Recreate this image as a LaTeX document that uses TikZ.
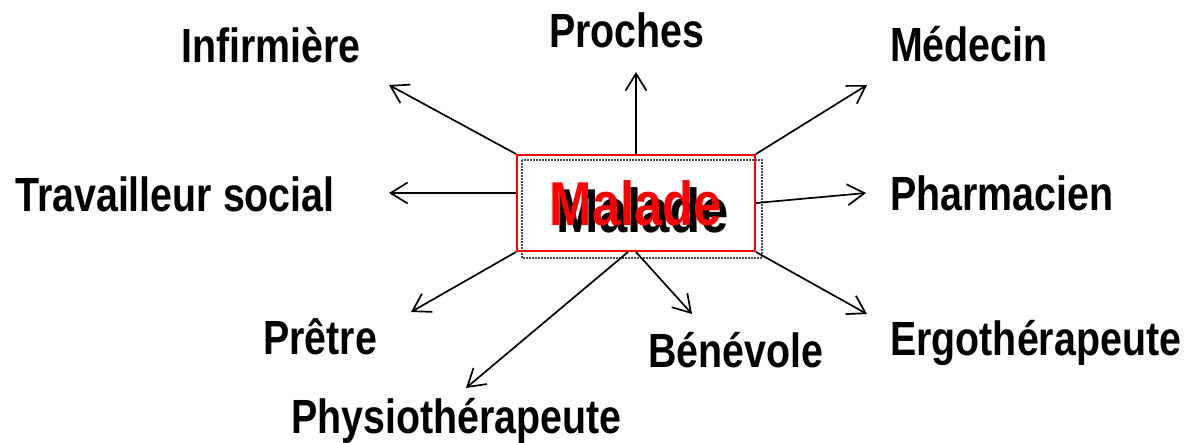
\documentclass[tikz,border=0pt]{standalone}
\usepackage{fontspec}
\setmainfont{Liberation Sans}[FakeStretch=0.82]
\usetikzlibrary{arrows.meta,calc,backgrounds}
\begin{document}
\begin{tikzpicture}[x=1pt,y=-1pt,
  lbl/.style={font=\fontsize{48}{50}\selectfont\bfseries, inner sep=0pt, anchor=base west},
  conn/.style={-{Straight Barb[length=17pt,width=21pt,line width=1.7pt]}, line width=1.7pt},
  malfont/.style={font=\fontsize{62}{62}\selectfont\bfseries, inner sep=0pt},
  redbox/.style={draw=red, line width=2pt, minimum width=238pt, minimum height=96pt, text=red, malfont},
  shadowbox/.style={draw=gray!60!black, line width=1.8pt, dash pattern=on 2pt off 1pt}]
\useasboundingbox (0,0) rectangle (1186,443);

% labels
\node[lbl] (inf) at (181,63) {Infirmière};
\node[lbl] (pro) at (549,48) {Proches};
\node[lbl] (med) at (890,62) {Médecin};
\node[lbl] (ts)  at (15,212) {Travailleur social};
\node[lbl] (pha) at (890,211) {Pharmacien};
\node[lbl] (pre) at (263,355) {Prêtre};
\node[lbl] (ben) at (648,368) {Bénévole};
\node[lbl] (erg) at (890,356) {Ergothérapeute};
\node[lbl] (phy) at (291,433) {Physiothérapeute};

% arrow tips
\coordinate (tInf) at (389,85);
\coordinate (tPro) at (636,72);
\coordinate (tMed) at (867,85);
\coordinate (tTS)  at (389,193);
\coordinate (tPh)  at (866,193);
\coordinate (tPr)  at (411,312);
\coordinate (tPhy) at (466,388);
\coordinate (tBe)  at (692,314);
\coordinate (tEr)  at (867,314);

% central box
\node[redbox] (m) at (636,203) {Malade};
\begin{scope}[on background layer]
  \draw[shadowbox] ([shift={(6,6)}]m.north west) rectangle ([shift={(6,6)}]m.south east);
  \node[malfont, text=black] (ms) at ([shift={(7,7)}]m.center) {Malade};
\end{scope}

% connectors
\draw[conn] (m.north west) -- (tInf);
\draw[conn] (m.north) -- (tPro);
\draw[conn] (m.north east) -- (tMed);
\draw[conn] (m.west |- tTS) -- (tTS);
\draw[conn] (m.east) -- (tPh);
\draw[conn] (m.south west) -- (tPr);
\draw[conn] ($(m.south)+(-8,0)$) -- (tPhy);
\draw[conn] (m.south) -- (tBe);
\draw[conn] (m.south east) -- (tEr);
\end{tikzpicture}
\end{document}
